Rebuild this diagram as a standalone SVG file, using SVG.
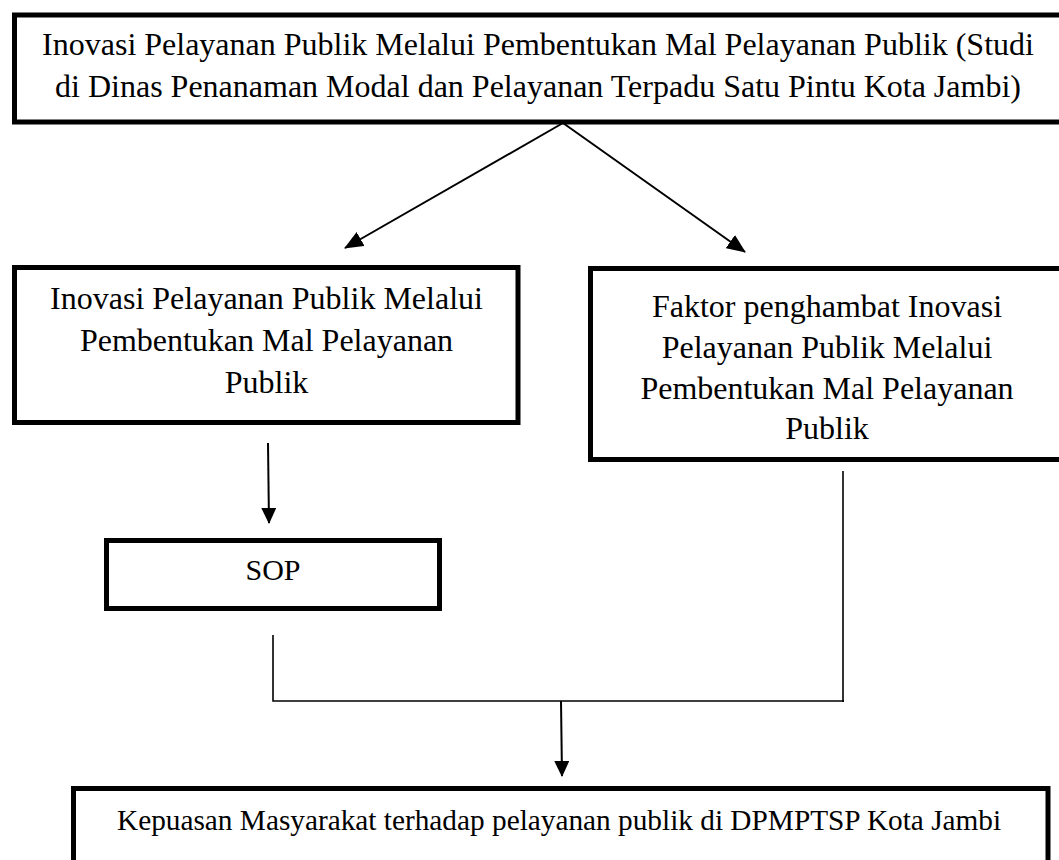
<svg xmlns="http://www.w3.org/2000/svg" width="1059" height="860" viewBox="0 0 1059 860">
<defs>
<style>
.box{fill:#fff;stroke:#000;stroke-width:5}
.t{font-family:"Liberation Serif","Times New Roman",serif;font-size:32px;fill:#000;text-anchor:middle}
.conn{stroke:#000;stroke-width:2;fill:none}
.thin{stroke:#000;stroke-width:1.6;fill:none}
</style>
<marker id="ah" viewBox="0 0 16 15" markerUnits="userSpaceOnUse" markerWidth="16" markerHeight="15" refX="15" refY="7.5" orient="auto">
<path d="M0,0 L16,7.5 L0,15 z" fill="#000"/>
</marker>
<marker id="ahd" viewBox="0 0 19 16" markerUnits="userSpaceOnUse" markerWidth="19" markerHeight="16" refX="18" refY="8" orient="auto">
<path d="M0,0 L19,8 L0,16 z" fill="#000"/>
</marker>
</defs>
<rect width="1059" height="860" fill="#fff"/>
<g id="connectors">
<line class="conn" x1="563" y1="123" x2="345" y2="248" marker-end="url(#ahd)"/>
<line class="conn" x1="563" y1="123" x2="745" y2="252" marker-end="url(#ahd)"/>
<line class="conn" x1="268" y1="443" x2="269" y2="523" marker-end="url(#ah)"/>
<polyline class="thin" points="273,635 273,701 844,701"/>
<line class="thin" x1="843" y1="471" x2="843" y2="702"/>
<line class="conn" x1="561" y1="701" x2="562" y2="776" marker-end="url(#ah)"/>
</g>
<g id="node-top">
<rect class="box" x="14.5" y="15" width="1055" height="107"/>
<text class="t" x="538" y="55">Inovasi Pelayanan Publik Melalui Pembentukan Mal Pelayanan Publik (Studi</text>
<text class="t" x="538" y="97">di Dinas Penanaman Modal dan Pelayanan Terpadu Satu Pintu Kota Jambi)</text>
</g>
<g id="node-left">
<rect class="box" x="14.5" y="267.5" width="503.5" height="155"/>
<text class="t" x="266.5" y="309">Inovasi Pelayanan Publik Melalui</text>
<text class="t" x="266.5" y="351">Pembentukan Mal Pelayanan</text>
<text class="t" x="266.5" y="393">Publik</text>
</g>
<g id="node-right">
<rect class="box" x="590.5" y="268.5" width="480" height="191"/>
<text class="t" x="827" y="317">Faktor penghambat Inovasi</text>
<text class="t" x="827" y="358">Pelayanan Publik Melalui</text>
<text class="t" x="827" y="399">Pembentukan Mal Pelayanan</text>
<text class="t" x="827" y="439">Publik</text>
</g>
<g id="node-sop">
<rect class="box" x="106.5" y="540.5" width="333" height="68"/>
<text class="t" x="273" y="580" style="font-size:30px">SOP</text>
</g>
<g id="node-bottom">
<rect class="box" x="73.5" y="788.5" width="974.5" height="120"/>
<text class="t" x="117" y="830" style="font-size:29.3px;text-anchor:start">Kepuasan Masyarakat terhadap pelayanan publik di DPMPTSP Kota Jambi</text>
</g>
</svg>
